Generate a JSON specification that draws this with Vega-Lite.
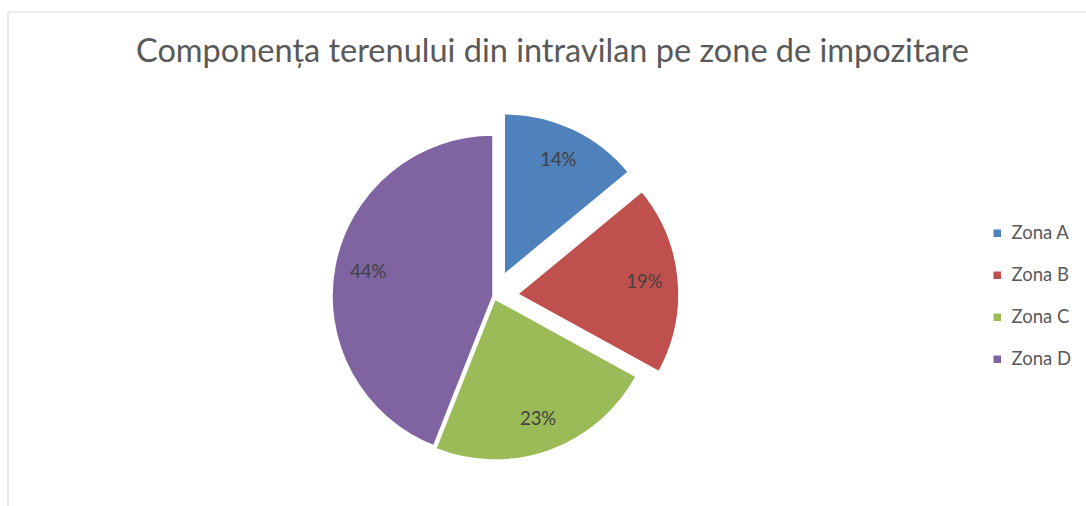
{
  "$schema": "https://vega.github.io/schema/vega-lite/v6.json",
  "width": 1079,
  "height": 495,
  "padding": {"left": 7, "top": 11, "right": 0, "bottom": 0},
  "background": "white",
  "config": {
    "view": {"stroke": null},
    "font": "Lato"
  },
  "title": {
    "text": "Componența terenului din intravilan pe zone de impozitare",
    "font": "Lato",
    "fontSize": 32.5,
    "fontWeight": "normal",
    "color": "#595959",
    "anchor": "middle",
    "frame": "group",
    "baseline": "alphabetic",
    "offset": -83,
    "dx": 5
  },
  "data": {
    "values": [
      {"zona": "Zona A", "pct": 14},
      {"zona": "Zona B", "pct": 19},
      {"zona": "Zona C", "pct": 23},
      {"zona": "Zona D", "pct": 44}
    ]
  },
  "transform": [
    {"window": [{"op": "sum", "field": "pct", "as": "cum"}], "sort": [{"field": "zona"}], "frame": [null, 0]},
    {"calculate": "datum.cum - datum.pct", "as": "start"},
    {"calculate": "datum.cum - datum.pct / 2", "as": "mid"},
    {"calculate": "datum.pct + '%'", "as": "label"}
  ],
  "layer": [
    {
      "data": {"values": [{"frame": 1}]},
      "transform": [],
      "mark": {"type": "rect", "fill": null, "stroke": "#d9d9d9", "strokeWidth": 1.2},
      "encoding": {}
    },
    {
      "mark": {
        "type": "arc",
        "outerRadius": 161,
        "stroke": "white",
        "strokeWidth": 1.5,
        "xOffset": {"expr": "-53.5 + (datum.zona == 'Zona A' || datum.zona == 'Zona B' ? 24 : datum.zona == 'Zona C' ? 3 : 1) * sin(2 * PI * datum.mid / 100)"},
        "yOffset": {"expr": "36.8 - (datum.zona == 'Zona A' || datum.zona == 'Zona B' ? 24 : datum.zona == 'Zona C' ? 3 : 1) * cos(2 * PI * datum.mid / 100)"}
      },
      "encoding": {
        "theta": {"field": "start", "type": "quantitative", "scale": {"domain": [0, 100], "range": [0, 6.283185307179586]}, "stack": null},
        "theta2": {"field": "cum"},
        "color": {
          "field": "zona",
          "type": "nominal",
          "scale": {"domain": ["Zona A", "Zona B", "Zona C", "Zona D"], "range": ["#4f81bd", "#c0504d", "#9bbb59", "#8064a2"]},
          "legend": {
            "orient": "none",
            "legendX": 980,
            "legendY": 212,
            "title": null,
            "symbolType": "square",
            "symbolSize": 56,
            "symbolStrokeWidth": 0,
            "labelFont": "Lato",
            "labelFontSize": 18.5,
            "labelColor": "#595959",
            "labelOffset": 5,
            "rowPadding": 23,
            "padding": 0
          }
        }
      }
    },
    {
      "mark": {
        "type": "text",
        "radius": 127,
        "font": "Lato",
        "fontSize": 18.5,
        "color": "#404040",
        "xOffset": {"expr": "-53.5 + (datum.zona == 'Zona A' || datum.zona == 'Zona B' ? 24 : datum.zona == 'Zona C' ? 3 : 1) * sin(2 * PI * datum.mid / 100)"},
        "yOffset": {"expr": "36.8 - (datum.zona == 'Zona A' || datum.zona == 'Zona B' ? 24 : datum.zona == 'Zona C' ? 3 : 1) * cos(2 * PI * datum.mid / 100)"}
      },
      "encoding": {
        "theta": {"field": "mid", "type": "quantitative", "stack": null},
        "text": {"field": "label"}
      }
    }
  ]
}
